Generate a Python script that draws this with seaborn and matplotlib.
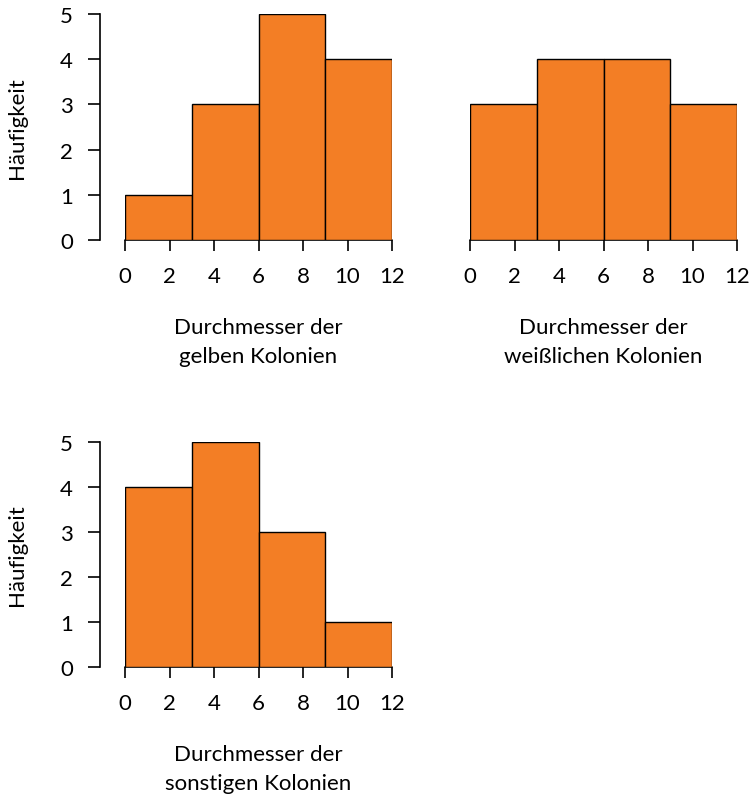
import matplotlib
matplotlib.use("Agg")
import matplotlib.pyplot as plt
import seaborn as sns
import numpy as np

sns.set_style("ticks")
plt.rcParams["font.family"] = ["Lato", "DejaVu Sans"]
plt.rcParams["text.color"] = "black"
plt.rcParams["axes.labelcolor"] = "black"

# Histogram classes (colony diameter) and frequencies per colony type
bin_edges = [0, 3, 6, 9, 12]
bin_mids = [1.5, 4.5, 7.5, 10.5]
counts_gelb = [1, 3, 5, 4]
counts_weiss = [3, 4, 4, 3]
counts_sonst = [4, 5, 3, 1]
x_ticks = [0, 2, 4, 6, 8, 10, 12]
y_ticks = [0, 1, 2, 3, 4, 5]
label_gelb = "Durchmesser der\ngelben Kolonien"
label_weiss = "Durchmesser der\nweißlichen Kolonien"
label_sonst = "Durchmesser der\nsonstigen Kolonien"
y_label = "Häufigkeit"

W, H = 752, 803
fig = plt.figure(figsize=(W / 100, H / 100), dpi=100)

def axes_px(x0, x1, y_top, y_bot):
    return fig.add_axes([x0 / W, 1 - y_bot / H, (x1 - x0) / W, (y_bot - y_top) / H])

FILL = "#F37E25"
FS = 16

def panel(ax, counts, xlabel, show_y):
    sns.histplot(x=bin_mids, weights=counts, bins=bin_edges, ax=ax,
                 color=FILL, alpha=1, edgecolor="black", linewidth=1.0)
    ax.set_xlim(0, 12)
    ax.set_ylim(0, 5)
    ax.set_xticks(x_ticks)
    ax.set_xticklabels([str(t) for t in x_ticks])
    ax.tick_params(axis="x", length=8, width=1.2, pad=11, labelsize=FS,
                   color="black", labelcolor="black")
    ax.spines["top"].set_visible(False)
    ax.spines["right"].set_visible(False)
    ax.spines["bottom"].set_visible(False)
    ax.set_xlabel(xlabel, fontsize=FS, labelpad=22, linespacing=1.55, color="black")
    if show_y:
        ax.set_yticks(y_ticks)
        ax.set_yticklabels([str(t) for t in y_ticks])
        ax.spines["left"].set_position(("outward", 18))
        ax.spines["left"].set_linewidth(1.2)
        ax.spines["left"].set_color("black")
        ax.spines["left"].set_bounds(0, 5)
        ax.tick_params(axis="y", length=8.5, width=1.2, pad=11, labelsize=FS,
                       color="black", labelcolor="black")
        ax.set_ylabel(y_label, fontsize=FS, labelpad=24, color="black")
    else:
        ax.spines["left"].set_visible(False)
        ax.set_yticks([])
        ax.set_ylabel("")
    # x axis baseline with ticks, like a base-graphics axis
    ax.axhline(0, color="black", lw=1.2, clip_on=False, zorder=0)

ax1 = axes_px(125, 392, 15, 241)
panel(ax1, counts_gelb, label_gelb, True)
ax2 = axes_px(470, 737, 15, 241)
panel(ax2, counts_weiss, label_weiss, False)
ax3 = axes_px(125, 392, 443, 668)
panel(ax3, counts_sonst, label_sonst, True)

fig.savefig("out.png", dpi=100)
